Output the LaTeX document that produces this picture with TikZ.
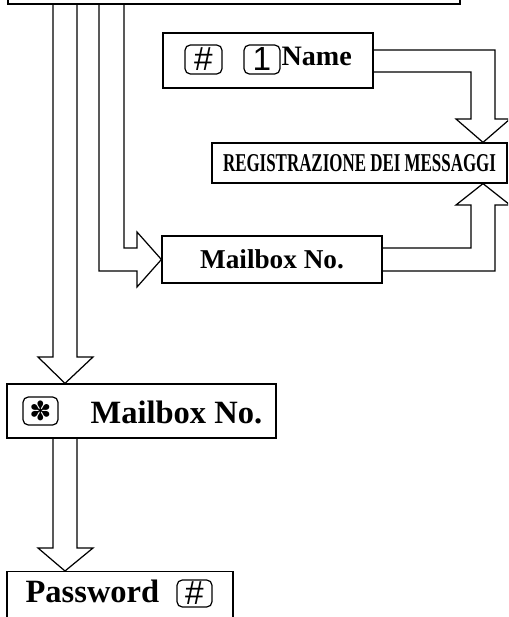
\documentclass[tikz,border=0pt]{standalone}
\usepackage{graphicx}
\usepackage{fontspec}
\setmainfont{Liberation Serif}
\newfontfamily\keyfont{Liberation Sans}
\newfontfamily\symfont{DejaVu Sans}
\usetikzlibrary{calc}

\begin{document}
\begin{tikzpicture}[
  x=0.02cm, y=-0.02cm,
  line width=0.7pt,
  every node/.style={font=\bfseries},
  frame/.style={draw,inner sep=0pt},
  keycap/.style={draw,rounded corners=3pt,inner sep=0pt,
                 font=\keyfont\fontsize{19}{19}\selectfont},
  lbl/.style={anchor=base west,inner sep=0pt},
  hollow/.style={draw,line join=miter},
]
  \useasboundingbox (0,0) rectangle (508,617);
  \clip (0,0) rectangle (508,617);

  % Menu box (top, mostly off the page)
  \node[frame,minimum width=9.04cm,minimum height=1.28cm] (menu) at (234,-28) {};

  % Name recording
  \node[frame,minimum width=4.2cm,minimum height=1.1cm] (namebox) at (268,60.5) {};
  \node[keycap,minimum width=0.74cm,minimum height=0.58cm] (hashkey) at (203.5,59.5) {\#};
  \node[keycap,minimum width=0.72cm,minimum height=0.58cm] (onekey) at (262,59.5) {1};
  \node[lbl,font=\bfseries\fontsize{16}{16}\selectfont] (nametxt) at (281,66) {Name};

  % Message recording
  \node[frame,minimum width=5.9cm,minimum height=0.8cm] (reg) at (359.5,163)
    {\resizebox{5.46cm}{0.34cm}{REGISTRAZIONE DEI MESSAGGI}};

  % Mailbox number
  \node[frame,minimum width=4.4cm,minimum height=0.94cm,
        font=\bfseries\fontsize{15.5}{15.5}\selectfont] (mbox) at (272,259.5) {Mailbox No.};

  % Star + mailbox number
  \node[frame,minimum width=5.38cm,minimum height=1.08cm] (starbox) at (141.5,411) {};
  \node[keycap,minimum width=0.7cm,minimum height=0.56cm,
        font=\symfont\fontsize{15}{15}\selectfont] (starkey) at (40.5,411) {✽};
  \node[lbl,font=\bfseries\fontsize{18.5}{18.5}\selectfont] (startxt) at (90,423) {Mailbox No.};

  % Password
  \node[frame,anchor=north,minimum width=4.52cm,minimum height=1.6cm] (pwbox) at (120,571) {};
  \node[lbl,font=\bfseries\fontsize{18.5}{18.5}\selectfont] (pwtxt) at (25,602) {Password};
  \node[keycap,minimum width=0.7cm,minimum height=0.54cm] (pwkey) at (194.5,593.5) {\#};

  % Hollow arrows
  \draw[hollow] (53,0 |- menu.south) -- (53,357) -- (38,357) -- (65,0 |- starbox.north)
    -- (93,357) -- (77,357) -- (77,0 |- menu.south);
  \draw[hollow] (99,0 |- menu.south) |- (137,271) -- (137,287) -- (mbox.west)
    -- (137,232) -- (137,248) -| (124,0 |- menu.south);
  \draw[hollow] (mbox.east |- 0,248) -| (471,205) -- (456,205) -- (483,0 |- reg.south)
    -- (510,205) -- (495,205) |- (mbox.east |- 0,271);
  \draw[hollow] (namebox.east |- 0,50) -| (495,119) -- (510,119) -- (483,0 |- reg.north)
    -- (456,119) -- (471,119) |- (namebox.east |- 0,72);
  \draw[hollow] (53,0 |- starbox.south) -- (53,548) -- (38,548) -- (65,0 |- pwbox.north)
    -- (93,548) -- (77,548) -- (77,0 |- starbox.south);
\end{tikzpicture}
\end{document}
